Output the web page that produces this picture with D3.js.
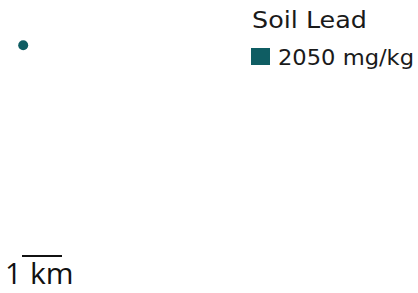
<!DOCTYPE html>
<meta charset="utf-8">
<script src="https://d3js.org/d3.v7.min.js"></script>
<style>
  body { margin: 0; background: #fff; }
  svg { display: block; }
</style>
<body>
<script>

// map samples, position in km from top-left corner of the view
var sampleX = [0.58]
var sampleY = [1.13]
var sampleLead = [2050]

// legend
var legendTitle = "Soil Lead"
var legendLabels = ["2050 mg/kg"]
var scaleKm = 1

var width = 418,
    height = 293;

var kmPx = 40; // pixels for one km
var x = d3.scaleLinear().domain([0, width / kmPx]).range([0, width]);
var y = d3.scaleLinear().domain([0, height / kmPx]).range([0, height]);

var color = d3.scaleOrdinal()
    .domain(sampleLead)
    .range(["#0f5d63"]);

var svg = d3.select("body")
    .append("svg")
    .attr("width", width)
    .attr("height", height);

// points
svg.selectAll("circle.sample")
    .data(sampleLead)
    .enter().append("circle")
    .attr("class", "sample")
    .attr("cx", function(d, i) { return x(sampleX[i]); })
    .attr("cy", function(d, i) { return y(sampleY[i]); })
    .attr("r", 5)
    .style("fill", function(d) { return color(d); });

// legend
var legend = svg.append("g").attr("transform", "translate(251,0)");

legend.append("text")
    .attr("x", 1)
    .attr("y", 28)
    .attr("font-family", "DejaVu Sans")
    .attr("textLength", 115)
    .attr("lengthAdjust", "spacingAndGlyphs")
    .style("font-size", "23px")
    .style("fill", "#1a1a1a")
    .text(legendTitle);

var items = legend.selectAll("g.item")
    .data(legendLabels)
    .enter().append("g")
    .attr("class", "item")
    .attr("transform", function(d, i) { return "translate(0," + (48 + i * 24) + ")"; });

items.append("rect")
    .attr("width", 19)
    .attr("height", 17)
    .style("fill", function(d, i) { return color(sampleLead[i]); });

items.append("text")
    .attr("x", 27)
    .attr("y", 16.5)
    .attr("font-family", "DejaVu Sans")
    .attr("textLength", 136)
    .attr("lengthAdjust", "spacingAndGlyphs")
    .style("font-size", "21px")
    .style("fill", "#1a1a1a")
    .text(function(d) { return d; });

// scale bar
var bar = svg.append("g");

bar.append("line")
    .attr("x1", x(0.55))
    .attr("x2", x(0.55 + scaleKm))
    .attr("y1", 256)
    .attr("y2", 256)
    .style("stroke", "#111")
    .style("stroke-width", 1.8);

bar.append("text")
    .attr("x", 5)
    .attr("y", 284)
    .attr("font-family", "Open Sans")
    .style("font-size", "29px")
    .style("fill", "#111")
    .text(scaleKm);

bar.append("text")
    .attr("x", 30)
    .attr("y", 284)
    .attr("font-family", "Open Sans")
    .style("font-size", "30px")
    .style("fill", "#111")
    .text("km");

</script>
</body>
